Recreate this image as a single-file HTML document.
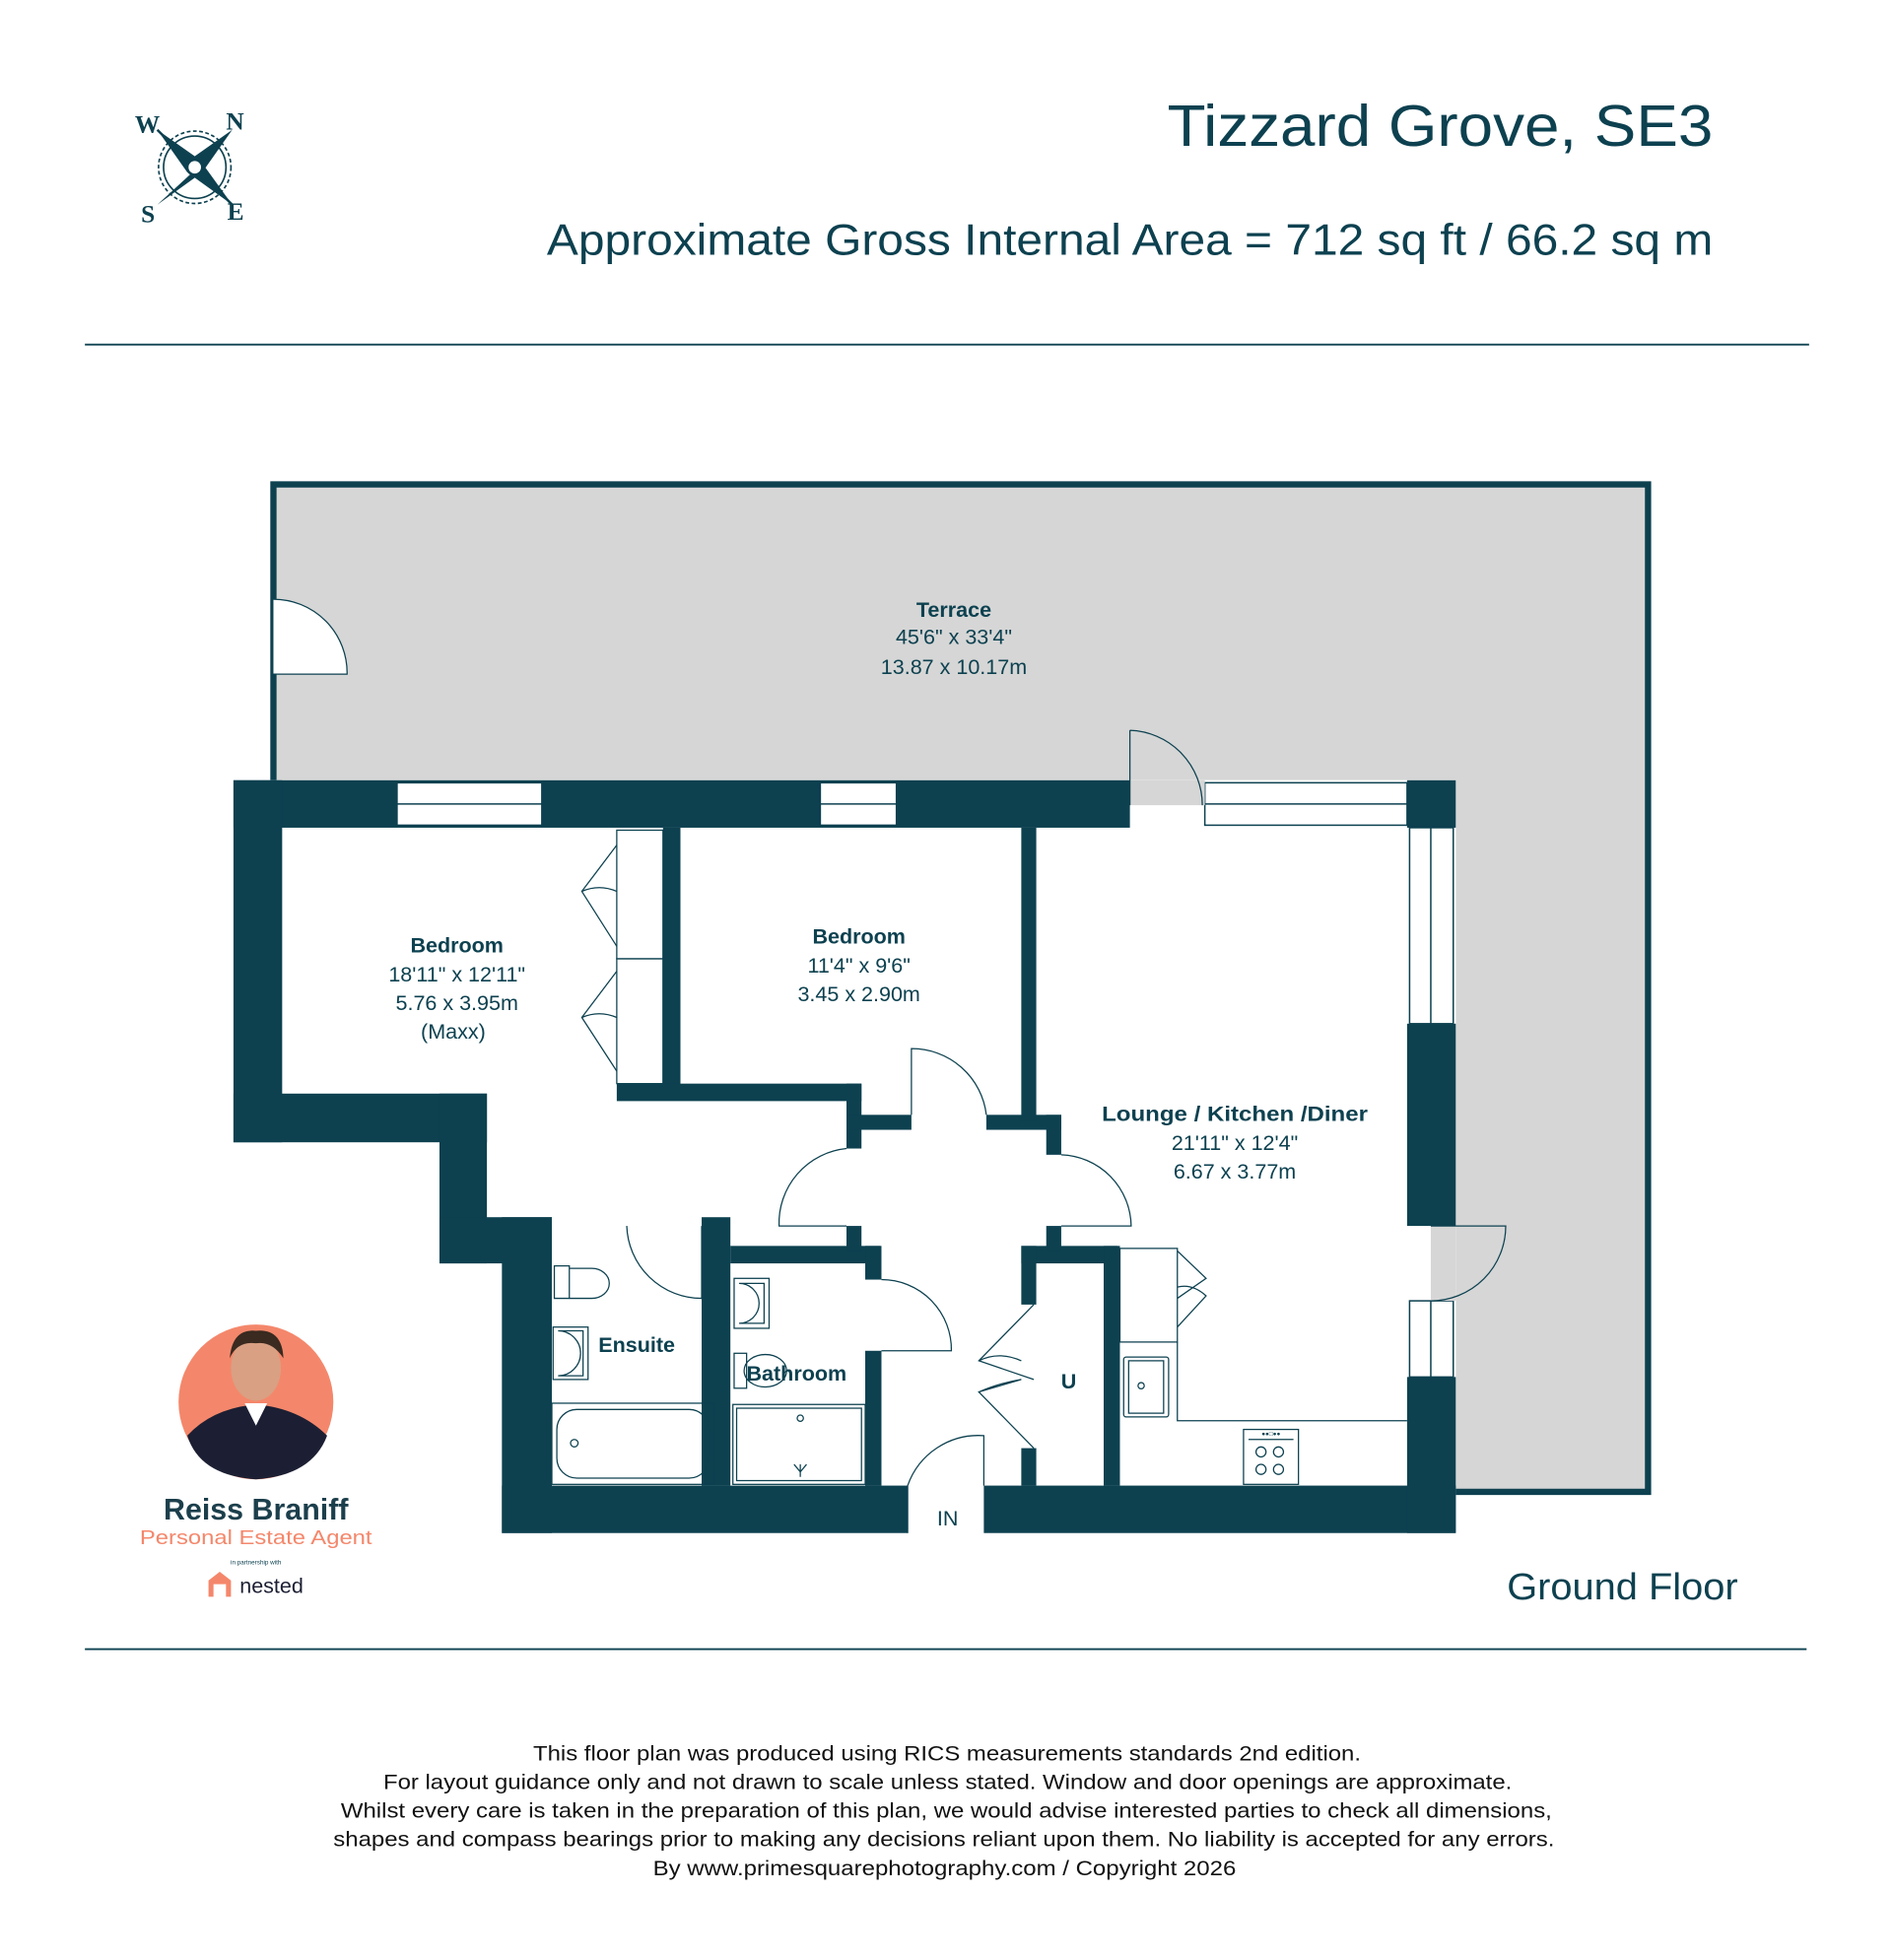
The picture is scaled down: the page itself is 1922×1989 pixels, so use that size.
<!DOCTYPE html>
<html><head><meta charset="utf-8"><style>
html,body{margin:0;padding:0;background:#fff;}
svg{display:block;}
text{font-family:"Liberation Sans",sans-serif;fill:#0d4150;}
</style></head><body>
<svg width="1922" height="1989" viewBox="0 0 1517 1570" preserveAspectRatio="none" xmlns="http://www.w3.org/2000/svg">
<!-- compass -->
<g fill="#0d4150">
<text x="108" y="106" font-weight="bold" font-size="20" style="font-family:'Liberation Serif',serif">W</text>
<text x="181" y="104" font-weight="bold" font-size="20" style="font-family:'Liberation Serif',serif">N</text>
<text x="113" y="178" font-weight="bold" font-size="20" style="font-family:'Liberation Serif',serif">S</text>
<text x="182" y="176" font-weight="bold" font-size="20" style="font-family:'Liberation Serif',serif">E</text>
<circle cx="156" cy="134" r="29" fill="none" stroke="#0d4150" stroke-width="1.3" stroke-dasharray="3 2"/>
<circle cx="156" cy="134" r="25" fill="none" stroke="#0d4150" stroke-width="1.3"/>
<polygon points="126,104 160,128 156,134 150,138"/>
<polygon points="186,104 162,138 156,134 152,128"/>
<polygon points="126,164 152,140 156,134 162,138"/>
<polygon points="186,164 150,138 156,134 160,128"/>
<polygon points="126,104 156,134 186,164 156,134" stroke="#0d4150" stroke-width="2"/>
<circle cx="156" cy="134" r="6" fill="#fff" stroke="#0d4150" stroke-width="2"/>
</g>
<text x="935" y="117" font-size="47" textLength="437" lengthAdjust="spacingAndGlyphs">Tizzard Grove, SE3</text>
<text x="438" y="204" font-size="35" textLength="934" lengthAdjust="spacingAndGlyphs">Approximate Gross Internal Area = 712 sq ft / 66.2 sq m</text>
<line x1="68" y1="276" x2="1449" y2="276" stroke="#0d4150" stroke-width="1.5"/>

<!-- terrace -->
<path d="M217,625 V388 H1320 V1195 H1166 V625 Z" fill="#d6d6d6"/>
<path d="M219,625 V388 H1320 V1195 H1166" fill="none" stroke="#0d4150" stroke-width="5"/>
<path d="M219,480 A59,59 0 0 1 278,540 H219" fill="#fff" stroke="#0d4150" stroke-width="1"/>
<text x="764" y="494" text-anchor="middle" font-size="17" font-weight="bold">Terrace</text>
<text x="764" y="516" text-anchor="middle" font-size="17">45'6" x 33'4"</text>
<text x="764" y="540" text-anchor="middle" font-size="17">13.87 x 10.17m</text>

<!-- interior white -->
<path d="M187,625 H1166 V1228 H402 V1012 H352 V915 H187 Z" fill="#fff"/>

<!-- walls -->
<g fill="#0d4150">
<rect x="187" y="625" width="718" height="38"/>
<rect x="1127" y="625" width="39" height="38"/>
<rect x="187" y="625" width="39" height="290"/>
<rect x="187" y="876" width="203" height="39"/>
<rect x="352" y="876" width="38" height="136"/>
<rect x="352" y="975" width="90" height="37"/>
<rect x="402" y="975" width="40" height="253"/>
<rect x="402" y="1190" width="325" height="38"/>
<rect x="788" y="1190" width="378" height="38"/>
<rect x="1127" y="820" width="39" height="162"/>
<rect x="1127" y="1103" width="39" height="125"/>
<rect x="531" y="663" width="14" height="217"/>
<rect x="494" y="868" width="196" height="14"/>
<rect x="678" y="868" width="12" height="52"/>
<rect x="678" y="893" width="52" height="12"/>
<rect x="790" y="893" width="60" height="12"/>
<rect x="838" y="893" width="12" height="32"/>
<rect x="818" y="663" width="12" height="235"/>
<rect x="562" y="975" width="23" height="215"/>
<rect x="585" y="998" width="120" height="14"/>
<rect x="678" y="982" width="12" height="20"/>
<rect x="693" y="998" width="13" height="27"/>
<rect x="693" y="1082" width="13" height="108"/>
<rect x="818" y="998" width="77" height="14"/>
<rect x="838" y="982" width="12" height="20"/>
<rect x="818" y="998" width="12" height="47"/>
<rect x="818" y="1160" width="12" height="30"/>
<rect x="884" y="998" width="13" height="192"/>
</g>
<!-- windows -->
<g fill="#fff" stroke="#0d4150" stroke-width="1.2">
<rect x="318" y="627" width="116" height="34"/><line x1="318" y1="644" x2="434" y2="644"/>
<rect x="657" y="627" width="61" height="34"/><line x1="657" y1="644" x2="718" y2="644"/>
<rect x="965" y="627" width="162" height="34"/><line x1="965" y1="644" x2="1127" y2="644"/>
<rect x="1129" y="663" width="35" height="157"/><line x1="1146" y1="663" x2="1146" y2="820"/>
<rect x="1129" y="1042" width="35" height="61"/><line x1="1146" y1="1042" x2="1146" y2="1103"/>
</g>
<rect x="905" y="625" width="60" height="20" fill="#d6d6d6"/>
<rect x="1146" y="982" width="20" height="60" fill="#d6d6d6"/>
<g fill="none" stroke="#0d4150" stroke-width="1">
<path d="M905,585 V645 M905,585 A60,60 0 0 1 963,645"/>
<path d="M1146,982 H1206 A60,60 0 0 1 1146,1042"/>
<rect x="494" y="665" width="37" height="103"/><rect x="494" y="768" width="37" height="100"/>
<path d="M494,677 L466,714 L494,758 M466,714 Q480,708 494,714"/>
<path d="M494,778 L466,815 L494,858 M466,815 Q480,809 494,815"/>
<path d="M730,893 V840 A60,60 0 0 1 790,893"/>
<path d="M678,920 A60,60 0 0 0 624,982 H678"/>
<path d="M850,925 A58,58 0 0 1 906,982 H850"/>
<path d="M502,982 A60,60 0 0 0 562,1040 V982"/>
<path d="M706,1025 A56,56 0 0 1 762,1082 H706"/>
<path d="M828,1045 L784,1090 L828,1105 M784,1090 Q800,1082 818,1090"/>
<path d="M828,1160 L784,1115 L818,1105 M784,1115 Q800,1108 818,1105"/>
<path d="M727,1228 V1190 A60,60 0 0 1 788,1150 V1190"/>
<path d="M444,1014 h12 v26 h-12 z M456,1016 h18 a14,12 0 0 1 0,24 h-18 z"/>
<rect x="443" y="1063" width="28" height="42"/><path d="M447,1066 h20 v36 h-20 a18,18 0 0 0 0,-36"/>
<rect x="442" y="1124" width="130" height="65"/><rect x="446" y="1129" width="122" height="55" rx="16"/>
<circle cx="460" cy="1156" r="3"/>
<rect x="588" y="1024" width="28" height="40"/><path d="M592,1028 h20 v32 h-20 a16,16 0 0 0 0,-32"/>
<rect x="588" y="1084" width="10" height="28"/><ellipse cx="613" cy="1098" rx="17" ry="13"/>
<rect x="587" y="1125" width="106" height="64"/><rect x="590" y="1128" width="100" height="58"/>
<circle cx="641" cy="1136" r="2.5"/><path d="M641,1183 v-10 m-5,0 l5,6 l5,-6"/>
<rect x="897" y="1000" width="46" height="75"/>
<path d="M943,1002 L966,1024 L943,1040 M943,1031 Q955,1028 966,1038 L943,1063"/>
<path d="M943,1075 V1138 H1127"/>
<rect x="900" y="1087" width="36" height="48" rx="2"/><rect x="904" y="1090" width="28" height="42"/>
<circle cx="914" cy="1110" r="2.5"/>
<rect x="996" y="1145" width="44" height="44"/><line x1="1000" y1="1153" x2="1036" y2="1153"/>
<circle cx="1010" cy="1163" r="4"/><circle cx="1024" cy="1163" r="4"/><circle cx="1010" cy="1177" r="4"/><circle cx="1024" cy="1177" r="4"/>
</g>
<text x="1018" y="1150" font-size="5" text-anchor="middle">●●□●●</text>

<g text-anchor="middle" font-size="17">
<text x="366" y="763" font-weight="bold">Bedroom</text>
<text x="366" y="786">18'11" x 12'11"</text>
<text x="366" y="809">5.76 x 3.95m</text>
<text x="363" y="832">(Maxx)</text>
<text x="688" y="756" font-weight="bold">Bedroom</text>
<text x="688" y="779">11'4" x 9'6"</text>
<text x="688" y="802">3.45 x 2.90m</text>
<text x="989" y="898" font-weight="bold" textLength="213" lengthAdjust="spacingAndGlyphs">Lounge / Kitchen /Diner</text>
<text x="989" y="921">21'11" x 12'4"</text>
<text x="989" y="944">6.67 x 3.77m</text>
<text x="510" y="1083" font-weight="bold">Ensuite</text>
<text x="638" y="1106" font-weight="bold">Bathroom</text>
<text x="856" y="1112" font-weight="bold">U</text>
<text x="759" y="1222">IN</text>
</g>

<circle cx="205" cy="1123" r="62" fill="#f4876b"/>
<path d="M150,1150 Q170,1128 205,1125 Q240,1128 262,1150 Q250,1182 205,1185 Q160,1182 150,1150 Z" fill="#1c1f33"/>
<ellipse cx="205" cy="1096" rx="20" ry="26" fill="#d9a083"/>
<path d="M184,1088 Q186,1064 205,1066 Q226,1064 227,1088 Q218,1074 205,1076 Q190,1074 184,1088Z" fill="#3a2a20"/>
<path d="M196,1124 L205,1142 L214,1124 Z" fill="#fff"/>
<text x="205" y="1217" text-anchor="middle" font-size="24" font-weight="bold" style="fill:#1c3f4c">Reiss Braniff</text>
<text x="205" y="1237" text-anchor="middle" font-size="16" style="fill:#f4876b" textLength="186" lengthAdjust="spacingAndGlyphs">Personal Estate Agent</text>
<text x="205" y="1253" text-anchor="middle" font-size="5">in partnership with</text>
<path d="M167,1279 V1266 L176,1259 L185,1266 V1279 H181 V1269 H171 V1279 Z" fill="#f4876b"/>
<text x="192" y="1276" font-size="17" style="fill:#1c1f33">nested</text>

<text x="1207" y="1281" font-size="30" textLength="185" lengthAdjust="spacingAndGlyphs">Ground Floor</text>
<line x1="68" y1="1321" x2="1447" y2="1321" stroke="#0d4150" stroke-width="1.5"/>
<g font-size="17">
<text x="427" y="1410" style="fill:#111" textLength="663" lengthAdjust="spacingAndGlyphs">This floor plan was produced using RICS measurements standards 2nd edition.</text>
<text x="307" y="1433" style="fill:#111" textLength="904" lengthAdjust="spacingAndGlyphs">For layout guidance only and not drawn to scale unless stated. Window and door openings are approximate.</text>
<text x="273" y="1456" style="fill:#111" textLength="970" lengthAdjust="spacingAndGlyphs">Whilst every care is taken in the preparation of this plan, we would advise interested parties to check all dimensions,</text>
<text x="267" y="1479" style="fill:#111" textLength="978" lengthAdjust="spacingAndGlyphs">shapes and compass bearings prior to making any decisions reliant upon them. No liability is accepted for any errors.</text>
<text x="523" y="1502" style="fill:#111" textLength="467" lengthAdjust="spacingAndGlyphs">By www.primesquarephotography.com / Copyright 2026</text>
</g>
</svg>
</body></html>
